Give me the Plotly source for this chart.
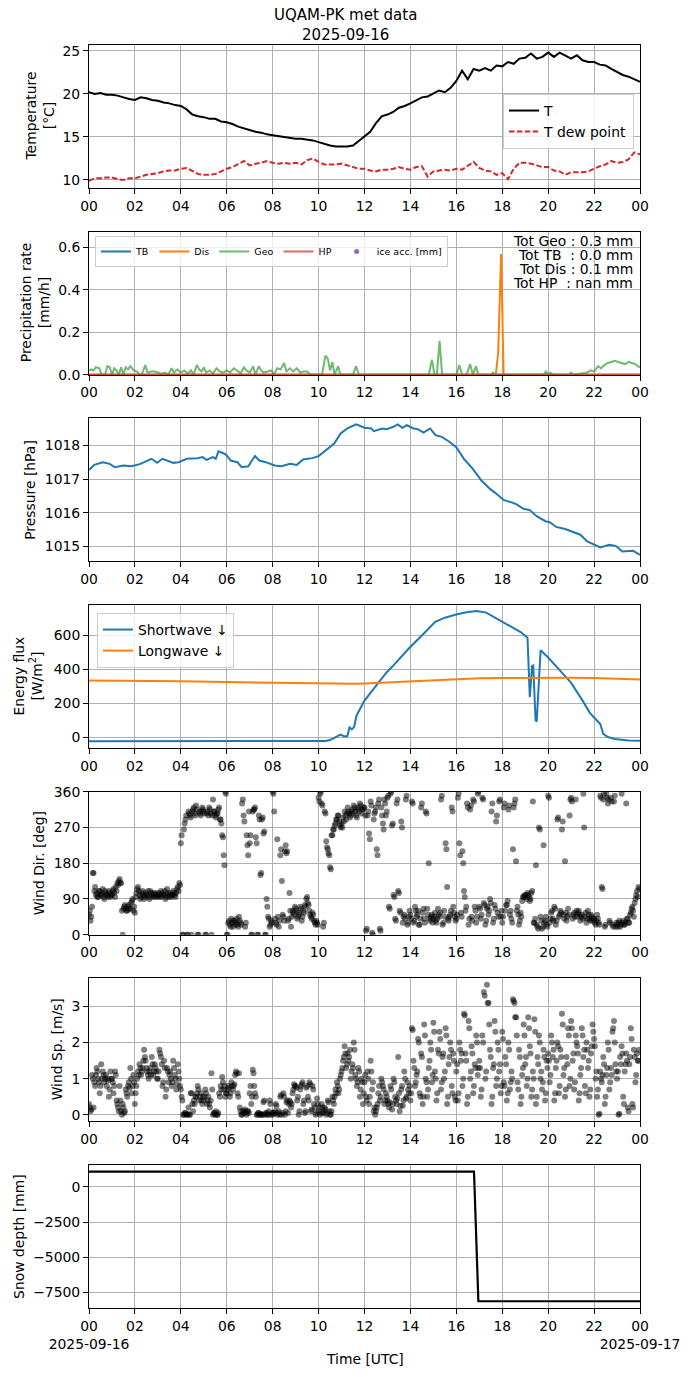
import plotly.graph_objects as go
from plotly.subplots import make_subplots

# ---------------- data (hours since 2025-09-16 00 UTC) ----------------
temp_t = [i * 0.25 for i in range(97)]
temp_v = [20.2, 20.0, 20.1, 19.9, 19.9, 19.8, 19.6, 19.4, 19.3, 19.6, 19.5, 19.3,
          19.2, 19.0, 18.9, 18.7, 18.6, 18.2, 17.6, 17.4, 17.3, 17.1, 17.1, 16.8,
          16.7, 16.5, 16.2, 16.0, 15.8, 15.6, 15.5, 15.3, 15.2, 15.1, 15.0, 14.9,
          14.8, 14.8, 14.7, 14.6, 14.4, 14.2, 14.0, 13.9, 13.9, 13.9, 14.0, 14.5,
          15.1, 15.6, 16.6, 17.4, 17.6, 17.9, 18.4, 18.6, 18.9, 19.3, 19.6, 19.7,
          20.1, 20.4, 20.2, 20.7, 21.5, 22.7, 21.7, 22.9, 22.7, 23.0, 22.7, 23.3,
          23.2, 23.7, 23.5, 24.1, 24.2, 24.7, 24.1, 24.3, 24.8, 24.3, 24.8, 24.4,
          24.1, 24.5, 23.9, 23.7, 23.7, 23.4, 23.3, 22.9, 22.5, 22.2, 22.0, 21.7,
          21.4]
dew_v = [9.9, 10.2, 10.2, 10.3, 10.3, 10.1, 10.0, 10.2, 10.2, 10.4, 10.6, 10.7,
         10.8, 11.0, 11.1, 11.1, 11.3, 11.4, 11.0, 10.7, 10.6, 10.6, 10.7, 11.0,
         11.3, 11.5, 11.9, 12.2, 11.7, 11.9, 12.0, 12.2, 12.0, 11.9, 12.0, 11.9,
         12.0, 11.8, 12.3, 12.5, 12.1, 11.8, 11.8, 11.8, 11.9, 11.7, 11.5, 11.3,
         11.3, 11.1, 11.0, 11.2, 11.2, 11.3, 11.5, 11.3, 11.2, 11.5, 11.6, 10.4,
         11.0, 11.1, 11.2, 11.1, 11.3, 11.2, 11.6, 12.1, 11.4, 11.1, 11.0, 10.6,
         10.8, 10.1, 11.3, 12.0, 12.0, 11.9, 11.7, 11.5, 11.5, 11.1, 11.0, 10.6,
         10.9, 10.9, 10.9, 11.0, 11.3, 11.6, 11.8, 12.2, 12.0, 12.1, 12.4, 13.2,
         13.0]

tb_t = [0, 24]
tb_v = [0.0, 0.0]
dis_t = [0, 17.72, 17.82, 17.95, 18.06, 24]
dis_v = [0.0, 0.0, 0.1, 0.57, 0.0, 0.0]
geo_t = [0.0, 0.1, 0.2, 0.3, 0.45, 0.55, 0.7, 0.8, 0.9, 1.0, 1.1, 1.2, 1.3, 1.4, 1.5,
         1.6, 1.7, 1.8, 1.95, 2.1, 2.2, 2.3, 2.45, 2.55, 2.7, 2.85, 3.0, 3.15, 3.3,
         3.45, 3.6, 3.7, 3.85, 4.0, 4.15, 4.3, 4.45, 4.55, 4.7, 4.8, 4.9, 5.0, 5.1,
         5.25, 5.4, 5.55, 5.7, 5.85, 6.0, 6.15, 6.3, 6.45, 6.6, 6.75, 6.85, 7.0,
         7.15, 7.25, 7.4, 7.5, 7.6, 7.8, 7.95, 8.05, 8.2, 8.35, 8.5, 8.6, 8.75, 8.9,
         9.05, 9.2, 9.35, 9.5, 9.65, 9.8, 10.0, 10.15, 10.3, 10.4, 10.5, 10.6, 10.7,
         10.85, 10.95, 11.5, 11.63, 11.75, 14.8, 14.94, 15.05, 15.15, 15.27, 15.38,
         16.0, 16.13, 16.25, 16.45, 16.6, 16.72, 16.86, 16.95, 17.5, 17.6, 17.7,
         19.8, 19.9, 20.0, 20.1, 20.2, 20.9, 21.0, 21.1, 21.5, 21.7, 21.85, 22.0,
         22.17, 22.3, 22.45, 22.6, 22.75, 22.9, 23.05, 23.2, 23.35, 23.5, 23.65,
         23.8, 23.9, 24.0]
geo_v = [0.02, 0.025, 0.02, 0.035, 0.03, 0.0, 0.0, 0.04, 0.035, 0.0, 0.03, 0.02,
         0.0, 0.035, 0.0, 0.035, 0.025, 0.04, 0.02, 0.015, 0.0, 0.0, 0.045, 0.01,
         0.015, 0.015, 0.01, 0.005, 0.01, 0.0, 0.03, 0.01, 0.025, 0.01, 0.02,
         0.005, 0.02, 0.0, 0.045, 0.025, 0.015, 0.035, 0.01, 0.02, 0.005, 0.03,
         0.015, 0.01, 0.02, 0.01, 0.03, 0.02, 0.005, 0.035, 0.02, 0.01, 0.04, 0.0,
         0.04, 0.02, 0.01, 0.015, 0.02, 0.0, 0.03, 0.025, 0.055, 0.015, 0.03,
         0.015, 0.03, 0.01, 0.015, 0.015, 0.0, 0.0, 0.0, 0.0, 0.09, 0.075, 0.02,
         0.06, 0.0, 0.04, 0.0, 0.0, 0.04, 0.0, 0.0, 0.07, 0.0, 0.0, 0.16, 0.0,
         0.0, 0.045, 0.0, 0.0, 0.05, 0.0, 0.04, 0.0, 0.0, 0.01, 0.0,
         0.0, 0.015, 0.0, 0.01, 0.0, 0.0, 0.01, 0.0, 0.005, 0.01, 0.02, 0.015,
         0.04, 0.03, 0.045, 0.055, 0.06, 0.065, 0.06, 0.055, 0.05, 0.06, 0.055,
         0.05, 0.04, 0.035, 0.03]
hp_t = [0, 24]
hp_v = [0.0, 0.0]
precip_totals = ["Tot Geo : 0.3 mm", "Tot TB\u00a0\u00a0: 0.0 mm",
                 "Tot Dis : 0.1 mm", "Tot HP\u00a0\u00a0: nan mm"]

pres_t = [0, 0.23, 0.6, 0.9, 1.13, 1.5, 1.86, 2.24, 2.72, 2.97, 3.2, 3.4, 3.68, 3.9,
          4.26, 4.74, 4.95, 5.12, 5.4, 5.52, 5.64, 5.9, 6.0, 6.17, 6.46, 6.65, 6.94,
          7.1, 7.23, 7.42, 7.7, 8.09, 8.38, 8.76, 9.05, 9.33, 9.72, 10.0, 10.3,
          10.68, 10.96, 11.25, 11.64, 12.0, 12.3, 12.4, 12.78, 12.97, 13.26, 13.45,
          13.65, 13.84, 14.13, 14.32, 14.57, 14.86, 15.09, 15.37, 15.66, 15.99,
          16.33, 16.72, 17.1, 17.48, 17.77, 18.06, 18.44, 18.63, 18.92, 19.2, 19.5,
          19.88, 20.07, 20.35, 20.74, 21.03, 21.4, 21.7, 21.98, 22.27, 22.66, 22.94,
          23.23, 23.6, 23.7, 24.0]
pres_v = [1017.27, 1017.42, 1017.5, 1017.45, 1017.35, 1017.4, 1017.38, 1017.45,
          1017.6, 1017.48, 1017.6, 1017.55, 1017.48, 1017.5, 1017.6, 1017.62,
          1017.65, 1017.57, 1017.65, 1017.6, 1017.82, 1017.75, 1017.7, 1017.55,
          1017.5, 1017.35, 1017.38, 1017.55, 1017.68, 1017.55, 1017.5, 1017.4,
          1017.38, 1017.45, 1017.42, 1017.58, 1017.62, 1017.68, 1017.85, 1018.05,
          1018.35, 1018.5, 1018.62, 1018.52, 1018.5, 1018.42, 1018.5, 1018.48,
          1018.55, 1018.62, 1018.52, 1018.6, 1018.5, 1018.48, 1018.38, 1018.5,
          1018.3, 1018.25, 1018.12, 1017.95, 1017.6, 1017.3, 1016.95, 1016.7,
          1016.55, 1016.38, 1016.3, 1016.25, 1016.12, 1016.08, 1015.9, 1015.75,
          1015.72, 1015.58, 1015.52, 1015.45, 1015.35, 1015.15, 1015.05, 1014.97,
          1015.05, 1015.02, 1014.85, 1014.85, 1014.87, 1014.75]

sw_t = [0, 2, 4, 4.5, 6, 8, 10, 10.3, 10.5, 10.85, 10.95, 11.1, 11.25, 11.35, 11.45,
        11.55, 11.65, 12.0, 12.6, 12.95, 13.26, 13.93, 14.5, 15.08, 15.5, 16.03, 16.5,
        16.9, 17.3, 17.76, 18.43, 18.8, 19.1, 19.2, 19.3, 19.35, 19.45, 19.5, 19.67,
        20.0, 20.5, 21.0, 21.5, 21.8, 22.0, 22.27, 22.4, 22.6, 22.9, 23.5, 24.0]
sw_v = [-25, -25, -25, -28, -26, -26, -25, -24, -18, 10, 14, 5, 5, 57, 45, 60,
        126, 215, 315, 380, 423, 523, 600, 680, 705, 725, 738, 744, 735, 701, 651,
        620, 586, 235, 420, 423, 100, 91, 512, 470, 395, 320, 215, 146, 115, 77,
        18, 0, -12, -20, -22]
lw_t = [0, 2, 4, 6, 8, 10, 11, 11.5, 12, 13, 14, 15, 16, 17, 18, 19, 20, 21, 22,
        23, 24]
lw_v = [334, 333, 330, 325, 320, 318, 315, 314, 316, 322, 330, 336, 343, 347, 349,
        350, 350, 350, 348, 343, 340]

# wind samples every 2 minutes
wind_t = [h + k / 30 for h in range(24) for k in range(30)]
wdir_v = [
    50, 60, 35, 45, 70, 155, 155, 110, 120, 100, 105, 95, 95, 110, 110, 100, 100, 105, 115, 95, 90, 110, 105, 100, 100, 95, 110, 105, 95, 100,
    100, 110, 115, 105, 95, 120, 110, 130, 125, 135, 140, 130, 130, 60, 0, 65, 70, 75, 65, 60, 60, 70, 75, 65, 65, 80, 85, 90, 60, 70,
    55, 95, 105, 115, 120, 110, 100, 90, 95, 105, 110, 100, 90, 95, 105, 100, 100, 110, 95, 90, 110, 105, 100, 95, 105, 100, 95, 105, 100, 95,
    100, 105, 95, 100, 110, 95, 105, 100, 100, 110, 90, 95, 115, 105, 100, 95, 105, 100, 95, 100, 110, 105, 100, 95, 105, 115, 120, 110, 130, 125,
    230, 250, 0, 0, 265, 280, 290, 300, 0, 0, 310, 305, 300, 295, 0, 310, 315, 320, 305, 300, 325, 315, 0, 0, 310, 305, 300, 310, 320, 315,
    310, 305, 0, 0, 305, 310, 300, 320, 315, 305, 0, 300, 340, 310, 310, 300, 295, 305, 305, 315, 320, 290, 290, 280, 250, 245, 200, 175, 360, 355,
    0, 0, 30, 35, 25, 20, 40, 30, 20, 35, 35, 25, 30, 40, 25, 20, 45, 35, 30, 25, 330, 340, 300, 285, 20, 30, 250, 225, 200, 310,
    230, 250, 0, 0, 310, 315, 315, 320, 245, 230, 0, 0, 300, 290, 150, 155, 290, 295, 255, 260, 0, 0, 90, 70, 45, 40, 20, 25, 35, 30,
    360, 355, 310, 40, 30, 25, 240, 45, 20, 35, 200, 215, 135, 50, 45, 35, 210, 225, 205, 210, 35, 40, 105, 60, 20, 45, 60, 55, 50, 70,
    65, 60, 40, 45, 55, 50, 70, 65, 35, 45, 60, 55, 75, 70, 90, 95, 80, 75, 60, 50, 45, 40, 55, 50, 35, 30, 25, 35, 30, 25,
    345, 335, 355, 360, 330, 325, 20, 30, 310, 305, 235, 220, 215, 205, 200, 170, 165, 250, 250, 265, 265, 275, 280, 290, 290, 300, 300, 285, 275, 270,
    280, 270, 295, 285, 310, 300, 290, 305, 320, 310, 305, 295, 300, 310, 315, 305, 325, 320, 310, 300, 295, 315, 320, 310, 330, 325, 305, 315, 315, 320,
    320, 300, 10, 15, 300, 310, 255, 240, 335, 325, 5, 0, 290, 305, 310, 320, 215, 200, 330, 340, 15, 10, 320, 300, 280, 265, 340, 330, 300, 310,
    345, 350, 70, 65, 355, 360, 275, 280, 100, 95, 40, 35, 330, 340, 110, 105, 60, 55, 285, 270, 30, 45, 50, 40, 340, 350, 25, 30, 45, 60,
    50, 40, 335, 330, 30, 35, 70, 60, 45, 50, 60, 25, 25, 40, 320, 330, 55, 65, 40, 30, 310, 305, 65, 50, 180, 40, 35, 45, 50, 30,
    40, 45, 55, 35, 30, 40, 65, 50, 45, 55, 340, 350, 25, 30, 60, 45, 230, 215, 120, 40, 35, 45, 50, 60, 320, 310, 70, 55, 45, 35,
    40, 50, 345, 355, 230, 200, 55, 45, 210, 180, 110, 95, 60, 70, 330, 320, 25, 40, 315, 325, 45, 35, 340, 335, 70, 60, 30, 45, 355, 360,
    70, 65, 40, 50, 345, 340, 80, 75, 25, 35, 65, 70, 50, 60, 90, 80, 310, 330, 30, 40, 75, 65, 285, 300, 55, 45, 335, 340, 45, 60,
    30, 45, 320, 330, 60, 75, 75, 85, 315, 325, 50, 60, 40, 30, 215, 320, 330, 340, 185, 60, 70, 50, 25, 35, 55, 45, 85, 95, 95, 100,
    95, 100, 90, 105, 100, 95, 85, 90, 105, 110, 335, 30, 30, 40, 175, 25, 20, 15, 270, 265, 45, 35, 15, 20, 225, 30, 35, 45, 25, 20,
    350, 345, 30, 40, 55, 60, 40, 35, 70, 65, 25, 35, 290, 295, 45, 50, 60, 55, 265, 285, 50, 40, 185, 55, 35, 45, 65, 50, 300, 340,
    345, 335, 40, 50, 55, 45, 340, 60, 45, 55, 60, 50, 35, 45, 50, 40, 355, 270, 45, 55, 30, 40, 60, 50, 40, 35, 50, 45, 35, 40,
    40, 30, 25, 35, 50, 40, 30, 25, 350, 345, 120, 115, 340, 355, 20, 25, 355, 345, 330, 340, 35, 30, 345, 335, 25, 20, 335, 350, 20, 30,
    25, 20, 30, 35, 20, 25, 355, 30, 35, 25, 25, 30, 330, 40, 40, 30, 30, 50, 55, 65, 70, 60, 45, 80, 90, 100, 110, 95, 120, 115,
]
wspd_v = [
    0.3, 0.2, 0.1, 0.15, 1.1, 1.0, 0.2, 0.9, 0.8, 1.1, 1.3, 1.2, 1.0, 0.9, 0.6, 0.8, 1.4, 1.0, 1.2, 1.1, 0.9, 1.0, 1.1, 0.8, 1.0, 0.95, 0.5, 0.7, 1.2, 1.0,
    1.0, 0.9, 0.6, 0.8, 1.2, 1.1, 0.4, 0.3, 0.2, 0.1, 0.8, 0.4, 0.1, 0.0, 0.3, 0.2, 0.05, 0.1, 0.7, 0.6, 0.5, 0.8, 0.9, 0.75, 1.3, 1.0, 0.6, 0.8, 1.1, 0.9,
    0.3, 0.6, 0.8, 1.0, 1.2, 1.1, 1.4, 1.3, 1.1, 1.2, 1.3, 1.5, 1.8, 1.6, 1.5, 1.3, 1.2, 1.1, 1.0, 1.2, 1.3, 1.1, 1.6, 1.4, 1.1, 1.2, 1.4, 1.3, 1.2, 1.0,
    1.0, 1.2, 1.8, 1.7, 1.6, 1.4, 0.8, 0.9, 1.5, 1.3, 0.5, 0.7, 1.3, 1.2, 0.9, 1.1, 1.2, 1.0, 0.8, 0.9, 1.5, 1.3, 1.1, 1.0, 0.7, 0.85, 1.4, 1.2, 1.0, 0.8,
    0.7, 0.5, 0.4, 0.0, 0.0, 0.05, 0.05, 0.0, 0.0, 0.02, 0.2, 0.0, 0.0, 0.6, 0.6, 0.3, 0.1, 0.4, 0.3, 0.5, 0.5, 0.6, 0.8, 0.7, 0.4, 0.5, 0.6, 0.4, 0.3, 0.5,
    0.4, 0.5, 0.7, 0.6, 0.3, 0.4, 0.5, 0.3, 0.2, 0.4, 1.15, 0.7, 0.0, 0.05, 0.05, 0.0, 0.1, 0.0, 0.0, 0.05, 0.6, 0.5, 0.8, 0.7, 1.05, 0.9, 0.7, 0.8, 0.5, 0.6,
    0.6, 0.7, 0.8, 0.75, 0.5, 0.6, 0.9, 0.8, 0.7, 0.8, 0.85, 1.1, 1.2, 1.15, 0.6, 0.5, 1.15, 0.2, 0.1, 0.0, 0.0, 0.1, 0.05, 0.1, 0.15, 0.05, 0.0, 0.1, 0.1, 0.05,
    0.6, 0.8, 0.3, 0.5, 1.25, 1.15, 0.8, 0.6, 0.5, 0.0, 0.0, 0.05, 0.05, 0.0, 0.0, 0.02, 0.0, 0.0, 0.35, 0.4, 0.0, 0.05, 0.05, 0.0, 0.0, 0.1, 0.4, 0.3, 0.0, 0.05,
    0.0, 0.05, 0.05, 0.1, 0.3, 0.25, 0.0, 0.05, 0.1, 0.0, 0.5, 0.55, 0.0, 0.05, 0.6, 0.5, 0.0, 0.1, 0.35, 0.4, 0.05, 0.3, 0.4, 0.35, 0.2, 0.3, 0.6, 0.7, 0.85, 0.8,
    0.8, 0.75, 0.4, 0.5, 0.0, 0.1, 0.7, 0.8, 0.85, 0.9, 0.3, 0.4, 0.05, 0.1, 0.75, 0.8, 0.5, 0.4, 0.9, 0.85, 0.1, 0.15, 0.8, 0.7, 0.3, 0.2, 0.0, 0.05, 0.45, 0.3,
    0.1, 0.2, 0.0, 0.05, 0.3, 0.2, 0.05, 0.1, 0.2, 0.15, 0.0, 0.05, 0.4, 0.35, 0.1, 0.0, 0.0, 0.1, 0.5, 0.4, 0.3, 0.5, 0.7, 0.6, 0.9, 0.8, 0.6, 0.7, 1.0, 1.1,
    1.2, 1.3, 1.5, 1.6, 1.9, 1.7, 1.3, 1.4, 1.7, 1.5, 1.6, 1.8, 1.0, 1.2, 1.4, 1.3, 2.0, 1.8, 1.1, 1.0, 0.8, 0.9, 1.3, 1.2, 0.5, 0.7, 1.0, 0.9, 0.3, 0.6,
    0.9, 1.1, 0.5, 0.4, 1.2, 1.0, 0.3, 0.5, 1.5, 1.2, 0.7, 0.9, 0.1, 0.2, 0.0, 0.1, 0.2, 0.3, 0.6, 0.8, 0.4, 0.5, 1.0, 0.9, 0.8, 0.7, 0.3, 0.4, 0.6, 0.5,
    0.4, 0.3, 0.2, 0.35, 0.8, 0.7, 0.15, 0.3, 1.0, 0.9, 0.5, 0.4, 0.3, 0.45, 1.6, 0.6, 0.1, 0.25, 0.7, 0.8, 0.25, 0.4, 1.2, 1.0, 0.45, 0.5, 0.9, 0.7, 0.6, 0.8,
    0.4, 0.6, 2.4, 2.35, 1.5, 1.3, 0.8, 0.9, 1.1, 1.2, 2.1, 2.0, 0.6, 0.5, 1.7, 1.6, 0.3, 0.5, 2.5, 2.2, 1.0, 0.9, 0.5, 0.7, 1.3, 1.5, 2.0, 1.8, 0.9, 1.1,
    2.55, 2.3, 1.2, 1.0, 0.4, 0.6, 1.8, 1.7, 2.3, 2.1, 0.7, 0.9, 1.6, 1.7, 1.0, 1.2, 2.4, 2.2, 0.3, 0.5, 1.4, 1.6, 2.0, 1.8, 0.8, 0.6, 1.7, 1.5, 0.5, 0.4,
    1.2, 1.4, 0.4, 0.6, 2.0, 1.8, 1.5, 1.7, 0.8, 1.0, 2.8, 2.75, 1.7, 1.5, 0.3, 0.5, 2.6, 2.4, 1.0, 1.2, 1.9, 1.7, 0.6, 0.8, 1.4, 1.3, 2.2, 2.0, 1.1, 1.3,
    1.5, 1.3, 0.5, 0.7, 2.2, 2.0, 3.4, 3.3, 1.0, 1.2, 3.6, 3.1, 3.1, 2.5, 1.8, 1.6, 0.3, 0.5, 1.3, 1.4, 2.6, 2.3, 0.8, 1.0, 2.0, 1.8, 1.2, 1.4, 0.6, 0.8,
    2.3, 2.1, 0.9, 0.8, 1.6, 1.4, 0.4, 0.6, 2.0, 1.8, 0.7, 0.9, 1.2, 1.0, 3.2, 3.15, 3.1, 2.7, 2.7, 2.2, 0.9, 0.7, 1.8, 1.6, 0.3, 0.5, 1.1, 1.3, 2.5, 2.2,
    1.4, 1.6, 0.8, 1.0, 2.7, 2.4, 1.9, 1.7, 0.5, 0.7, 1.2, 1.0, 2.65, 2.3, 0.3, 0.5, 1.6, 1.4, 2.2, 2.0, 1.0, 1.2, 0.7, 0.9, 1.8, 1.6, 0.4, 0.6, 1.5, 1.3,
    1.7, 1.5, 0.9, 1.1, 2.2, 2.0, 1.6, 1.8, 0.4, 0.6, 1.3, 1.5, 2.0, 1.9, 0.6, 0.8, 1.8, 1.6, 2.8, 2.5, 1.1, 1.3, 0.5, 0.7, 1.6, 1.4, 2.4, 2.2, 0.8, 1.0,
    2.6, 2.4, 1.5, 1.7, 0.7, 0.9, 2.2, 2.0, 1.9, 1.7, 0.4, 0.6, 1.1, 1.3, 2.4, 2.2, 1.6, 1.8, 0.8, 0.6, 2.0, 1.8, 1.3, 1.5, 0.5, 0.7, 1.7, 1.9, 2.5, 2.3,
    2.1, 1.9, 1.0, 1.2, 0.5, 0.7, 0.0, 0.03, 1.2, 1.0, 0.9, 1.1, 1.6, 1.4, 0.3, 0.5, 1.1, 1.3, 2.0, 1.8, 0.7, 0.9, 1.3, 1.1, 2.3, 2.4, 2.6, 2.0, 1.4, 1.2,
    1.0, 1.2, 0.0, 0.03, 1.6, 1.4, 1.9, 1.7, 0.5, 0.3, 1.2, 1.4, 1.7, 1.5, 0.2, 0.1, 1.4, 1.6, 2.4, 2.1, 0.3, 0.2, 1.8, 1.6, 0.9, 1.1, 1.7, 1.5, 1.5, 1.8,
]

snow_t = [0, 16.77, 16.96, 24]
snow_v = [1095, 1095, -8120, -8120]

hour_ticks = list(range(0, 25, 2))
hour_labels = ["00", "02", "04", "06", "08", "10", "12", "14", "16", "18", "20",
               "22", "00"]
bottom_labels = ["00<br>2025-09-16"] + hour_labels[1:-1] + ["00<br>2025-09-17"]

# ---------------- layout geometry ----------------
FONT = "DejaVu Sans"
FS = 13.9
W, H = 690, 1377
ML, MR, MT, MB = 89, 50, 45, 69
PLOT_H = H - MT - MB
PANEL_H = 143
GAP = (PLOT_H - 7 * PANEL_H) / 6


def px_x(px):
    return (px - ML) / (W - ML - MR)


def px_y(py):
    return (H - MB - py) / PLOT_H


fig = make_subplots(rows=7, cols=1, vertical_spacing=GAP / PLOT_H)

# panel 1
fig.add_trace(go.Scatter(x=temp_t, y=temp_v, mode="lines", name="T",
                         line=dict(color="black", width=2), legend="legend"), 1, 1)
fig.add_trace(go.Scatter(x=temp_t, y=dew_v, mode="lines", name="T dew point",
                         line=dict(color="#d62728", width=2, dash="5.5px,2.4px"),
                         legend="legend"), 1, 1)
# panel 2
fig.add_trace(go.Scatter(x=tb_t, y=tb_v, mode="lines", name="TB",
                         line=dict(color="#1f77b4", width=2), legend="legend2"), 2, 1)
fig.add_trace(go.Scatter(x=dis_t, y=dis_v, mode="lines", name="Dis",
                         line=dict(color="#ff7f0e", width=2), legend="legend2"), 2, 1)
fig.add_trace(go.Scatter(x=geo_t, y=geo_v, mode="lines", name="Geo",
                         line=dict(color="rgba(44,160,44,0.7)", width=2),
                         legend="legend2"), 2, 1)
fig.add_trace(go.Scatter(x=hp_t, y=hp_v, mode="lines", name="HP",
                         line=dict(color="rgba(214,39,40,0.7)", width=2),
                         legend="legend2"), 2, 1)
fig.add_trace(go.Scatter(x=[None], y=[None], mode="markers", name="ice acc. [mm]",
                         marker=dict(color="#9467bd", size=5), legend="legend2"), 2, 1)
# panel 3
fig.add_trace(go.Scatter(x=pres_t, y=pres_v, mode="lines", showlegend=False,
                         line=dict(color="#1f77b4", width=2)), 3, 1)
# panel 4
fig.add_trace(go.Scatter(x=sw_t, y=sw_v, mode="lines", name="Shortwave ↓",
                         line=dict(color="#1f77b4", width=2), legend="legend3"), 4, 1)
fig.add_trace(go.Scatter(x=lw_t, y=lw_v, mode="lines", name="Longwave ↓",
                         line=dict(color="#ff7f0e", width=2), legend="legend3"), 4, 1)
# panel 5, 6
for row, vals in ((5, wdir_v), (6, wspd_v)):
    fig.add_trace(go.Scatter(x=wind_t, y=vals, mode="markers", showlegend=False,
                             marker=dict(color="black", opacity=0.5, size=6,
                                         line=dict(width=0))), row, 1)
# panel 7
fig.add_trace(go.Scatter(x=snow_t, y=snow_v, mode="lines", showlegend=False,
                         line=dict(color="black", width=2.2)), 7, 1)

axis_common = dict(showgrid=True, gridcolor="#b0b0b0", gridwidth=1, zeroline=False,
                   showline=True, mirror=True, linecolor="black", linewidth=1,
                   ticks="outside", ticklen=5, tickcolor="black", tickwidth=1,
                   automargin=False,
                   tickfont=dict(family=FONT, size=FS, color="black"))

for r in range(1, 8):
    fig.update_xaxes(range=[0, 24], tickvals=hour_ticks, tickangle=0,
                     ticktext=bottom_labels if r == 7 else hour_labels,
                     row=r, col=1, **axis_common)

y_specs = [
    ([9.07, 25.68], [10, 15, 20, 25], ["10", "15", "20", "25"]),
    ([0, 0.675], [0, 0.2, 0.4, 0.6], ["0.0", "0.2", "0.4", "0.6"]),
    ([1014.56, 1018.8], [1015, 1016, 1017, 1018], ["1015", "1016", "1017", "1018"]),
    ([-65, 780], [0, 200, 400, 600], ["0", "200", "400", "600"]),
    ([0, 360], [0, 90, 180, 270, 360], ["0", "90", "180", "270", "360"]),
    ([-0.18, 3.78], [0, 1, 2, 3], ["0", "1", "2", "3"]),
    ([-8600, 1560], [0, -2500, -5000, -7500], ["0", "−2500", "−5000", "−7500"]),
]
for r, (rng, tv, tt) in enumerate(y_specs, start=1):
    fig.update_yaxes(range=rng, tickvals=tv, ticktext=tt, tickangle=0,
                     row=r, col=1, **axis_common)

legend_common = dict(bgcolor="rgba(255,255,255,0.8)", bordercolor="#cccccc",
                     borderwidth=1, itemwidth=30, tracegroupgap=0)
fig.update_layout(
    template="none",
    width=W, height=H,
    margin=dict(l=ML, r=MR, t=MT, b=MB, autoexpand=False),
    plot_bgcolor="white", paper_bgcolor="white",
    font=dict(family=FONT, size=FS, color="black"),
    legend=dict(x=px_x(634), y=px_y(94), xanchor="right", yanchor="top",
                font=dict(family=FONT, size=FS, color="black"), **legend_common),
    legend2=dict(x=px_x(95), y=px_y(236), xanchor="left", yanchor="top",
                 orientation="h",
                 font=dict(family=FONT, size=9.5, color="black"), **legend_common),
    legend3=dict(x=px_x(97), y=px_y(613), xanchor="left", yanchor="top",
                 font=dict(family=FONT, size=FS, color="black"), **legend_common),
)

ann = []
# suptitle
ann.append(dict(text="UQAM-PK met data<br>2025-09-16", x=(345 - ML) / (W - ML - MR),
                y=px_y(25), xanchor="center", yanchor="middle",
                font=dict(size=15)))
# y labels
ylabels = ["Temperature<br>[°C]", "Precipitation rate<br>[mm/h]", "Pressure [hPa]",
           "Energy flux<br>[W/m<sup>2</sup>]", "Wind Dir. [deg]", "Wind Sp. [m/s]",
           "Snow depth [mm]"]
ylabel_x = [39, 35, 30, 27, 39, 56.5, 18.4]
for i, (txt, xp) in enumerate(zip(ylabels, ylabel_x)):
    cy = MT + i * (PANEL_H + GAP) + PANEL_H / 2
    ann.append(dict(text=txt, x=px_x(xp), y=px_y(cy), textangle=-90,
                    xanchor="center", yanchor="middle"))
# precipitation totals
for j, line in enumerate(precip_totals):
    ann.append(dict(text=line, x=px_x(635), y=px_y(240.5 + j * 14.2),
                    xanchor="right", yanchor="middle"))
# x label
ann.append(dict(text="Time [UTC]", x=0.5, y=px_y(1359), xanchor="center",
                yanchor="middle"))
for a in ann:
    size = a.get("font", {}).get("size", FS)
    a.update(xref="paper", yref="paper", showarrow=False,
             font=dict(family=FONT, size=size, color="black"))
fig.update_layout(annotations=ann)

fig.write_html("out.html", config={"displayModeBar": False},
               post_script="document.body.style.margin='0px';")
